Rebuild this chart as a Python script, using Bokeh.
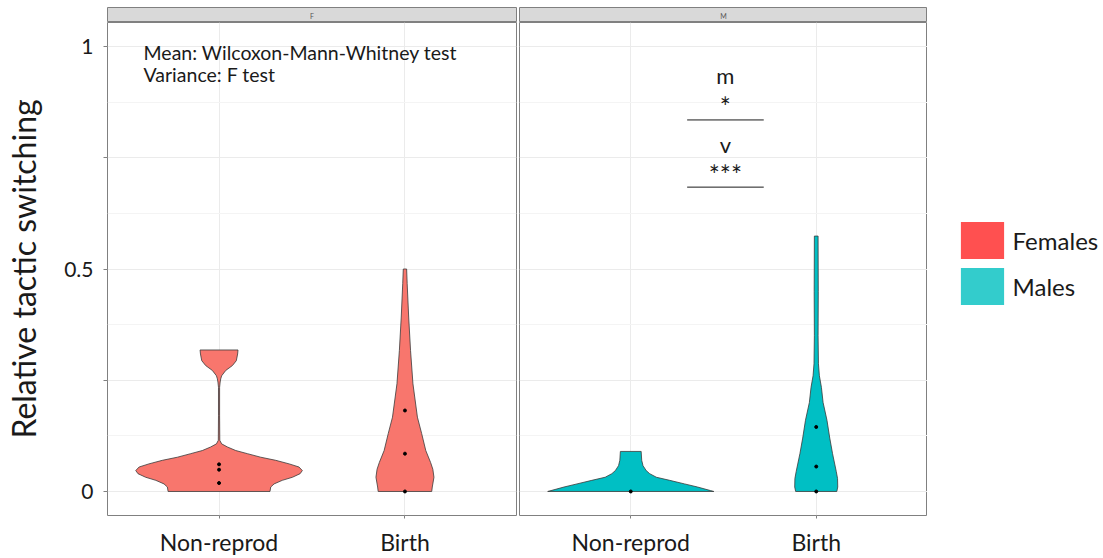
from bokeh.plotting import figure
from bokeh.layouts import column, row
from bokeh.models import Range1d, FixedTicker, Label, Legend, LegendItem
from bokeh.embed import file_html
from bokeh.resources import INLINE

# ---------------- data ----------------
panels = ["F", "M"]
categories = ["Non-reprod", "Birth"]
legend_labels = ["Females", "Males"]
y_ticks = [0, 0.25, 0.5, 0.75, 1]
y_tick_labels = ["0", "", "0.5", "", "1"]
y_minor = [0.125, 0.375, 0.625, 0.875]

# violin profiles: y levels and half-widths (category units)
f_nonrep_y = [0.0, 0.01, 0.017, 0.025, 0.032, 0.04, 0.047, 0.055, 0.062, 0.07, 0.077,
              0.085, 0.092, 0.10, 0.107, 0.115, 0.17, 0.234, 0.246, 0.253, 0.26, 0.272,
              0.283, 0.294, 0.309, 0.318]
f_nonrep_w = [0.274, 0.278, 0.296, 0.34, 0.395, 0.436, 0.448, 0.43, 0.377, 0.305, 0.224,
              0.152, 0.09, 0.045, 0.014, 0.004, 0.003, 0.003, 0.006, 0.009, 0.014, 0.036,
              0.072, 0.093, 0.10, 0.102]
f_birth_y = [0.0, 0.01, 0.032, 0.05, 0.065, 0.092, 0.13, 0.167, 0.242, 0.317, 0.392, 0.467, 0.50]
f_birth_w = [0.144, 0.147, 0.156, 0.15, 0.138, 0.112, 0.09, 0.067, 0.043, 0.03, 0.02, 0.012, 0.009]
m_nonrep_y = [0.0, 0.002, 0.01, 0.017, 0.025, 0.032, 0.04, 0.047, 0.058, 0.07, 0.09]
m_nonrep_w = [0.448, 0.43, 0.36, 0.29, 0.21, 0.138, 0.102, 0.083, 0.066, 0.059, 0.056]
m_birth_y = [0.0, 0.01, 0.029, 0.045, 0.085, 0.12, 0.16, 0.20, 0.234, 0.26, 0.287, 0.35, 0.45, 0.574]
m_birth_w = [0.111, 0.116, 0.115, 0.108, 0.088, 0.073, 0.058, 0.037, 0.028, 0.017, 0.012, 0.01, 0.011, 0.01]

# observation points shown on the violins
f_nonrep_pts = [0.019, 0.049, 0.061]
f_birth_pts = [0.0, 0.085, 0.182]
m_nonrep_pts = [0.0]
m_birth_pts = [0.0, 0.056, 0.145]

# annotations
notes = ["Mean: Wilcoxon-Mann-Whitney test", "Variance: F test"]
notes_y = [0.9865, 0.938]
sig_text = ["m", "*", "v", "***"]
sig_y = [0.934, 0.8645, 0.780, 0.711]
sig_size = ["22px", "26px", "22px", "26px"]
bracket_y = [0.835, 0.684]

# ---------------- styling ----------------
FONT = "Lato"
NAN = float("nan")
fills = {"F": "#F8766D", "M": "#00BFC4"}
legend_colors = ["#FF5050", "#33CCCC"]
violins = {
    "F": [(f_nonrep_y, f_nonrep_w, f_nonrep_pts), (f_birth_y, f_birth_w, f_birth_pts)],
    "M": [(m_nonrep_y, m_nonrep_w, m_nonrep_pts), (m_birth_y, m_birth_w, m_birth_pts)],
}
cat_pos = [i + 1 for i in range(len(categories))]
PANEL_W = [517, 410]
BORDER_L = [107, 2]
BORDER_R = [1, 0]


def violin_outline(center, ys, ws):
    xs = [center + w for w in ws] + [center - w for w in reversed(ws)]
    yy = list(ys) + list(reversed(ys))
    return xs, yy


def make_strip(k):
    s = figure(width=PANEL_W[k], height=22, x_range=Range1d(0, 1), y_range=Range1d(0, 1),
               x_axis_location=None, y_axis_location=None,
               min_border_left=BORDER_L[k], min_border_right=BORDER_R[k],
               min_border_top=7, min_border_bottom=0,
               output_backend="svg", toolbar_location=None)
    s.background_fill_color = "#D9D9D9"
    s.border_fill_color = "white"
    s.outline_line_color = "#808080"
    s.xgrid.visible = False
    s.ygrid.visible = False
    s.add_layout(Label(x=0.5, y=0.45, text=panels[k], text_align="center",
                       text_baseline="middle", text_font=FONT, text_font_size="7px",
                       text_color="#555555"))
    return s


def make_panel(k):
    name = panels[k]
    p = figure(width=PANEL_W[k], height=536,
               x_range=Range1d(0.4, 2.6), y_range=Range1d(-0.054, 1.054),
               y_axis_location="left" if k == 0 else None,
               min_border_left=BORDER_L[k], min_border_right=BORDER_R[k],
               min_border_top=0, min_border_bottom=43,
               output_backend="svg", toolbar_location=None)
    p.background_fill_color = "white"
    p.border_fill_color = "white"
    p.outline_line_color = "#808080"
    p.outline_line_width = 1

    # grids
    p.xgrid.ticker = FixedTicker(ticks=cat_pos)
    p.xgrid.grid_line_color = "#EBEBEB"
    p.ygrid.ticker = FixedTicker(ticks=y_ticks, minor_ticks=y_minor)
    p.ygrid.grid_line_color = "#EBEBEB"
    p.ygrid.minor_grid_line_color = "#F4F4F4"

    # x axis
    xa = p.xaxis[0]
    xa.ticker = FixedTicker(ticks=cat_pos)
    xa.major_label_overrides = {pos: c for pos, c in zip(cat_pos, categories)}
    xa.axis_line_color = None
    xa.major_tick_line_color = "#808080"
    xa.major_tick_out = 3
    xa.major_tick_in = 0
    xa.minor_tick_line_color = None
    xa.major_label_text_font = FONT
    xa.major_label_text_font_size = "23px"
    xa.major_label_text_color = "#1a1a1a"
    xa.major_label_standoff = 9

    if k == 0:
        ya = p.yaxis[0]
        ya.ticker = FixedTicker(ticks=y_ticks)
        ya.major_label_overrides = {t: l for t, l in zip(y_ticks, y_tick_labels)}
        ya.axis_line_color = None
        ya.major_tick_line_color = "#808080"
        ya.major_tick_out = 4
        ya.major_tick_in = 0
        ya.minor_tick_line_color = None
        ya.major_label_text_font = FONT
        ya.major_label_text_font_size = "21px"
        ya.major_label_text_color = "#1a1a1a"
        ya.major_label_standoff = 10
        ya.axis_label = "Relative tactic switching"
        ya.axis_label_text_font = FONT
        ya.axis_label_text_font_size = "32px"
        ya.axis_label_text_font_style = "normal"
        ya.axis_label_text_color = "#1a1a1a"
        ya.axis_label_standoff = 18

    for pos, (ys, ws, pts) in zip(cat_pos, violins[name]):
        vx, vy = violin_outline(pos, ys, ws)
        p.patch(vx, vy, fill_color=fills[name], line_color="#3a3a3a", line_width=0.8)
        p.scatter([pos] * len(pts), pts, size=3, color="black")
    return p


s1, s2 = make_strip(0), make_strip(1)
p1, p2 = make_panel(0), make_panel(1)

# left panel notes
for txt, yv in zip(notes, notes_y):
    p1.add_layout(Label(x=0.594, y=yv, text=txt, text_font=FONT, text_font_size="19.5px",
                        text_color="#1a1a1a", text_baseline="alphabetic"))

# right panel significance marks
for txt, yv, fs in zip(sig_text, sig_y, sig_size):
    p2.add_layout(Label(x=1.51, y=yv, text=txt, text_font=FONT, text_font_size=fs,
                        text_color="#1a1a1a", text_align="center", text_baseline="alphabetic"))
p2.segment(x0=[1.304] * len(bracket_y), x1=[1.717] * len(bracket_y), y0=bracket_y, y1=bracket_y,
           line_color="#1a1a1a", line_width=1)

# legend area: its own borderless figure so nothing is clipped
pl = figure(width=176, height=536, x_range=Range1d(0, 1), y_range=Range1d(0, 1),
            x_axis_location=None, y_axis_location=None,
            min_border_left=0, min_border_right=0, min_border_top=0, min_border_bottom=43,
            output_backend="svg", toolbar_location=None)
pl.outline_line_color = None
pl.background_fill_color = "white"
pl.border_fill_color = "white"
pl.xgrid.visible = False
pl.ygrid.visible = False
swatches = [pl.quad(left=[NAN], right=[NAN], top=[NAN], bottom=[NAN], fill_color=c, line_color=None)
            for c in legend_colors]
legend = Legend(items=[LegendItem(label=l, renderers=[r]) for l, r in zip(legend_labels, swatches)],
                location=(27.6, 206), glyph_width=54, glyph_height=46, spacing=0,
                label_standoff=4, padding=0, margin=0, border_line_color=None,
                background_fill_alpha=0, label_text_font=FONT, label_text_font_size="24px",
                label_text_color="#1a1a1a")
pl.add_layout(legend)

layout = column(row(s1, s2), row(p1, p2, pl))
open("out.html", "w").write(file_html(layout, INLINE))
